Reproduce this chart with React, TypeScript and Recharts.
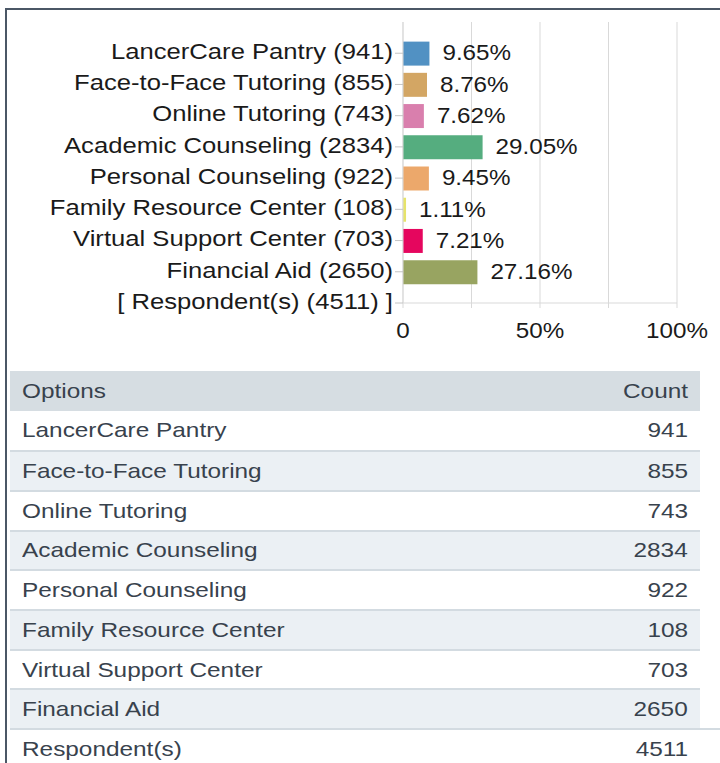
import React from "react";
import { Bar, BarChart, CartesianGrid, Cell, LabelList, XAxis, YAxis } from "recharts";

const CATEGORIES = [
  "LancerCare Pantry",
  "Face-to-Face Tutoring",
  "Online Tutoring",
  "Academic Counseling",
  "Personal Counseling",
  "Family Resource Center",
  "Virtual Support Center",
  "Financial Aid",
];
const COUNTS = [941, 855, 743, 2834, 922, 108, 703, 2650];
const PERCENTS = [9.65, 8.76, 7.62, 29.05, 9.45, 1.11, 7.21, 27.16];
const COLORS = ["#5191c3", "#d3a664", "#d97fad", "#55ad7f", "#eca86b", "#e6e36a", "#e5065e", "#98a461"];
const RESPONDENT_LABEL = "Respondent(s)";
const RESPONDENTS = 4511;
const X_TICKS = [0, 25, 50, 75, 100];

const FONT = '"Liberation Sans", Arial, sans-serif';
const GRID = "#d9d9d9";
const INK = "#1a1a1a";

const yLabels = [
  ...CATEGORIES.map((c, i) => `${c} (${COUNTS[i]})`),
  `[ ${RESPONDENT_LABEL} (${RESPONDENTS}) ]`,
];

const chartData = [
  ...CATEGORIES.map((c, i) => ({ pos: i + 1, name: c, pct: PERCENTS[i] })),
  { pos: CATEGORIES.length + 1, name: RESPONDENT_LABEL, pct: null },
];

const tableRows = [
  ...CATEGORIES.map((c, i) => ({ label: c, count: COUNTS[i] })),
  { label: RESPONDENT_LABEL, count: RESPONDENTS },
];

// the source screenshot is a bit stretched sideways, so text gets a scaleX
const YTick = ({ x, y, payload }: any) => (
  <g transform={`translate(${x},${y - 2})`}>
    <text textAnchor="end" dy="0.355em" fontSize={22} fill={INK} transform="scale(1.165,1)">
      {yLabels[payload.value - 1] ?? ""}
    </text>
  </g>
);

const XTick = ({ x, y, payload }: any) => {
  const v = payload.value;
  const label = v === 0 ? "0" : v % 50 === 0 ? `${v}%` : "";
  return (
    <g transform={`translate(${x},${y})`}>
      <text textAnchor="middle" dy="0.71em" fontSize={22} fill={INK} transform="scale(1.1,1)">
        {label}
      </text>
    </g>
  );
};

const PctLabel = ({ x, y, width, height, value }: any) => {
  if (value == null) return null;
  return (
    <g transform={`translate(${x + width + 13},${y + height / 2 - 1})`}>
      <text dy="0.355em" fontSize={22} fill={INK} transform="scale(1.1,1)">
        {`${Number(value).toFixed(2)}%`}
      </text>
    </g>
  );
};

const cellText = (origin: string): React.CSSProperties => ({
  display: "inline-block",
  transform: "scaleX(1.16)",
  transformOrigin: origin,
});

function ResultsTable() {
  const rowH = 39.7;
  const top0 = 410.5;
  return (
    <div style={{ position: "absolute", left: 0, top: 0, fontFamily: FONT, fontSize: 21, color: "#38424d" }}>
      <div
        style={{
          position: "absolute",
          left: 10,
          top: 371,
          width: 690,
          height: 39.5,
          background: "#d6dde2",
          display: "flex",
          alignItems: "center",
          justifyContent: "space-between",
          boxSizing: "border-box",
          padding: "0 12px",
        }}
      >
        <span style={cellText("left")}>Options</span>
        <span style={cellText("right")}>Count</span>
      </div>
      {tableRows.map((r, i) => {
        const last = i === tableRows.length - 1;
        return (
          <div
            key={r.label}
            style={{
              position: "absolute",
              left: 10,
              top: top0 + i * rowH,
              width: last ? 710 : 690,
              height: rowH,
              background: i % 2 === 1 ? "#ebf0f4" : "#ffffff",
              borderTop: i > 0 ? "2px solid #d3dbe1" : "none",
              display: "flex",
              alignItems: "center",
              justifyContent: "space-between",
              boxSizing: "border-box",
              padding: last ? "0 32px 0 12px" : "0 12px",
            }}
          >
            <span style={cellText("left")}>{r.label}</span>
            <span style={cellText("right")}>{r.count}</span>
          </div>
        );
      })}
    </div>
  );
}

export default function App() {
  return (
    <div style={{ position: "absolute", left: 0, top: 0, width: 720, height: 763, overflow: "hidden", background: "#fff" }}>
      <div
        style={{
          position: "absolute",
          left: 5,
          top: 8,
          width: 760,
          height: 800,
          borderLeft: "2.5px solid #4b5766",
          borderTop: "2px solid #4b5766",
        }}
      />
      <div style={{ position: "absolute", left: 0, top: 0 }}>
        <BarChart
          width={720}
          height={350}
          data={chartData}
          layout="vertical"
          margin={{ top: 22, right: 43, bottom: 7, left: 0 }}
          style={{ fontFamily: FONT }}
        >
          <CartesianGrid horizontal={false} stroke={GRID} />
          <XAxis
            type="number"
            domain={[0, 100]}
            ticks={X_TICKS}
            interval={0}
            height={40}
            axisLine={{ stroke: GRID }}
            tickLine={{ stroke: GRID }}
            tickSize={5}
            tickMargin={14}
            tick={<XTick />}
          />
          <YAxis
            type="number"
            dataKey="pos"
            domain={[0, yLabels.length]}
            ticks={yLabels.map((_, i) => i + 1)}
            interval={0}
            width={403}
            axisLine={{ stroke: GRID }}
            tickLine={{ stroke: "#c4c4c4" }}
            tickSize={8}
            tickMargin={2}
            tick={<YTick />}
          />
          <Bar dataKey="pct" barSize={24} isAnimationActive={false}>
            {chartData.map((d, i) => (
              <Cell key={d.name} fill={COLORS[i % COLORS.length]} />
            ))}
            <LabelList dataKey="pct" content={<PctLabel />} />
          </Bar>
        </BarChart>
      </div>
      <ResultsTable />
    </div>
  );
}
